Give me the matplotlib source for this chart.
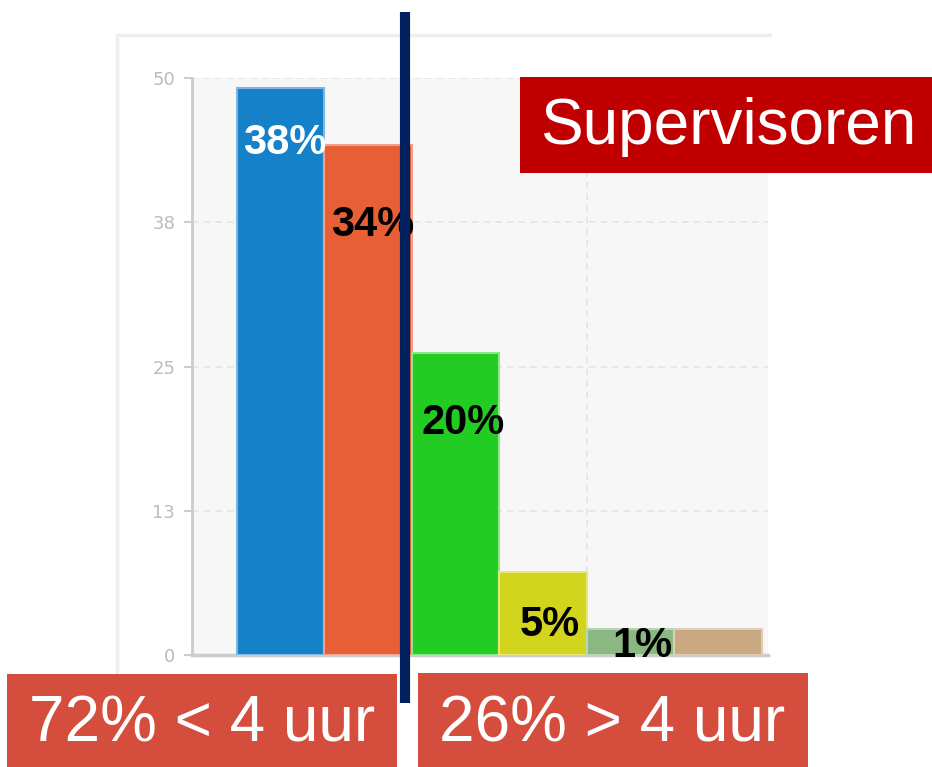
import matplotlib
matplotlib.use("Agg")
import matplotlib.pyplot as plt
from matplotlib.patches import Rectangle
from matplotlib.lines import Line2D

# ---- data ----
categories = ["cat1", "cat2", "cat3", "cat4", "cat5", "cat6"]
values = [49.1, 44.2, 26.2, 7.2, 2.25, 2.25]
bar_labels = ["38%", "34%", "20%", "5%", "1%", ""]
ytick_values = [0, 12.5, 25, 37.5, 50]
ytick_labels = ["0", "13", "25", "38", "50"]
title_text = "Supervisoren"
left_box_text = "72% < 4 uur"
right_box_text = "26% > 4 uur"

# ---- styles ----
bar_colors = ["#1581C8", "#E65F35", "#22CC22", "#D2D41E", "#8BB783", "#C9A882"]
edge_colors = ["#7FB6DF", "#F0A088", "#8EE58E", "#E6E67A", "#B8D4B2", "#E0CDB8"]
label_colors = ["white", "black", "black", "black", "black", "black"]
label_offsets_px = [-35, -60, -50, -33, 3]  # text top relative to bar top
label_dx = [0.05, 0.05, 0.08, 0.08, 0.13]

W, H = 932, 767
fig = plt.figure(figsize=(W / 100, H / 100), dpi=100)
fig.patch.set_facecolor("white")

def fx(px):
    return px / W

def fy(py):
    return 1 - py / H

# outer chart panel borders (left and top)
fig.lines.append(Line2D([fx(117), fx(117)], [fy(35), fy(800)], transform=fig.transFigure,
                        color="#EEEEEE", linewidth=2.5, zorder=-1))
fig.lines.append(Line2D([fx(117), fx(770)], [fy(35), fy(35)], transform=fig.transFigure,
                        color="#EEEEEE", linewidth=2.5, zorder=-1))

ax = fig.add_axes([fx(192), fy(655), fx(768) - fx(192), fy(78) - fy(655)])
ax.set_facecolor("#F7F7F7")

x = list(range(len(values)))
ax.bar(x, values, width=1.0, color=bar_colors, edgecolor=edge_colors,
       linewidth=1.5, zorder=3)

ax.set_xlim(-1.014, 5.57)
ax.set_ylim(0, 50)
ax.set_yticks(ytick_values)
ax.set_yticklabels(ytick_labels, color="#BBBBBB", fontsize=13,
                   family="DejaVu Sans")
ax.set_xticks([])
ax.tick_params(axis="y", length=6, color="#CCCCCC", width=1.5, pad=6)

ax.yaxis.grid(True, linestyle=(0, (4, 3)), color="#E4E4E4", linewidth=1.2, zorder=0)
ax.axvline(3.5, linestyle=(0, (4, 3)), color="#E4E4E4", linewidth=1.2, zorder=0)

for side in ["top", "right"]:
    ax.spines[side].set_visible(False)
ax.spines["left"].set_color("#CCCCCC")
ax.spines["left"].set_linewidth(2)
ax.spines["bottom"].set_color("#CCCCCC")
ax.spines["bottom"].set_linewidth(2.5)

# bar value labels
for i, lab in enumerate(bar_labels):
    if not lab:
        continue
    ax.annotate(lab, xy=(x[i] + label_dx[i], values[i]),
                xytext=(0, label_offsets_px[i] * 0.72),
                textcoords="offset points", ha="center", va="top",
                fontsize=30, fontweight="bold", color=label_colors[i],
                family="Liberation Sans", zorder=5)

# navy divider line
fig.lines.append(Line2D([fx(405), fx(405)], [fy(12), fy(703)],
                        transform=fig.transFigure, color="#002060",
                        linewidth=7.3, solid_capstyle="butt", zorder=10))

# title box
fig.patches.append(Rectangle((fx(520), fy(173)), fx(932) - fx(520), fy(77) - fy(173),
                             transform=fig.transFigure, facecolor="#C00000",
                             edgecolor="none", zorder=8))
fig.text(fx(728), fy(127), title_text, ha="center", va="center",
         color="white", fontsize=46, family="Liberation Sans", zorder=9)

# bottom boxes
box_col = "#D44D3D"
fig.patches.append(Rectangle((fx(7), fy(767)), fx(397) - fx(7), fy(674) - fy(767),
                             transform=fig.transFigure, facecolor=box_col,
                             edgecolor="none", zorder=8))
fig.patches.append(Rectangle((fx(418), fy(767)), fx(808) - fx(418), fy(673) - fy(767),
                             transform=fig.transFigure, facecolor=box_col,
                             edgecolor="none", zorder=8))
fig.text(fx(202), fy(724), left_box_text, ha="center", va="center",
         color="white", fontsize=46, family="Liberation Sans", zorder=9)
fig.text(fx(612), fy(724), right_box_text, ha="center", va="center",
         color="white", fontsize=46, family="Liberation Sans", zorder=9)

fig.savefig("out.png", dpi=100, facecolor="white")
